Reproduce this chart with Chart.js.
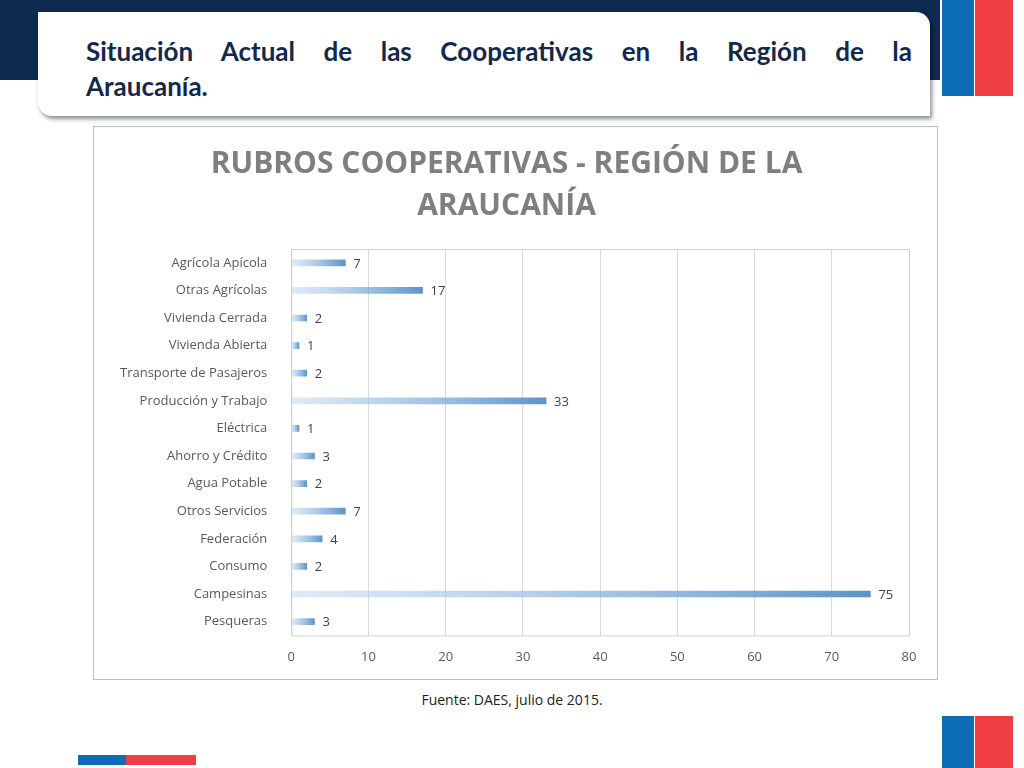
<!DOCTYPE html>
<html>
<head>
<meta charset="utf-8">
<script src="https://cdn.jsdelivr.net/npm/chart.js@4"></script>
<style>
  body { margin: 0; width: 1024px; height: 768px; position: relative; background: #fff; overflow: hidden; font-family: Lato, sans-serif; }
  .band { position: absolute; left: 0; top: 0; width: 940px; height: 80px; background: #0f2a4f; }
  .card { position: absolute; left: 38px; top: 12px; width: 892px; height: 104px; background: #fff; box-shadow: 2px 3px 4px rgba(0,0,0,0.45); border-radius: 0 14px 0 14px; }
  .card h1 { margin: 22px 18px 0 48px; font-size: 26px; line-height: 35px; color: #14284b; font-weight: bold; }
  .card .l1 { text-align: justify; text-align-last: justify; }
  .blk { position: absolute; }
  .box { position: absolute; left: 93px; top: 126px; width: 843px; height: 552px; border: 1px solid #a9c3dd; }
  .src { position: absolute; left: 0; width: 1024px; top: 690px; text-align: center; font-size: 14px; color: #222; font-family: "Open Sans", sans-serif; }
</style>
</head>
<body>
<div class="band"></div>
<div class="card"><h1><div class="l1">Situación Actual de las Cooperativas en la Región de la</div><div>Araucanía.</div></h1></div>
<div class="blk" style="left:942px;top:0;width:32px;height:96px;background:#0d6cb6"></div>
<div class="blk" style="left:975px;top:0;width:38px;height:96px;background:#ef3e42"></div>
<div class="blk" style="left:942px;top:716px;width:32px;height:52px;background:#0d6cb6"></div>
<div class="blk" style="left:975px;top:716px;width:38px;height:52px;background:#ef3e42"></div>
<div class="blk" style="left:78px;top:755px;width:48px;height:10px;background:#0d6cb6"></div>
<div class="blk" style="left:126px;top:755px;width:70px;height:10px;background:#ef3e42"></div>
<div class="box"><canvas id="c" width="843" height="552"></canvas></div>
<div class="src">Fuente: DAES, julio de 2015.</div>
<script>
const categories = ['Agrícola Apícola', 'Otras Agrícolas', 'Vivienda Cerrada', 'Vivienda Abierta', 'Transporte de Pasajeros', 'Producción y Trabajo', 'Eléctrica', 'Ahorro y Crédito', 'Agua Potable', 'Otros Servicios', 'Federación', 'Consumo', 'Campesinas', 'Pesqueras'];
const values = [7, 17, 2, 1, 2, 33, 1, 3, 2, 7, 4, 2, 75, 3];

const labelPlugin = {
	id: 'labels',
	afterDatasetsDraw(chart) {
		const ctx = chart.ctx;
		const meta = chart.getDatasetMeta(0);
		const a = chart.chartArea;
		ctx.save();
		ctx.strokeStyle = '#d0d0d0';
		ctx.lineWidth = 1;
		ctx.strokeRect(a.left + 0.5, a.top + 0.5, a.right - a.left, a.bottom - a.top);
		ctx.font = '13px "Open Sans", sans-serif';
		ctx.fillStyle = '#404040';
		ctx.textBaseline = 'middle';
		meta.data.forEach((bar, i) => {
			ctx.fillText(values[i], bar.x + 8, bar.y + 1);
		});
		ctx.restore();
	},
};

new Chart(document.getElementById('c'), {
	type: 'bar',
	data: {
		labels: categories,
		datasets: [{
			data: values,
			backgroundColor: (context) => {
				const chart = context.chart;
				if (!chart.chartArea) return '#5b9bd5';
				const x0 = chart.scales.x.getPixelForValue(0);
				const x1 = chart.scales.x.getPixelForValue(context.raw);
				const g = chart.ctx.createLinearGradient(x0, 0, x1, 0);
				g.addColorStop(0, 'rgba(190,215,238,0.5)');
				g.addColorStop(1, '#5b93cc');
				return g;
			},
			barThickness: 6,
		}],
	},
	options: {
		indexAxis: 'y',
		responsive: false,
		animation: false,
		layout: { padding: { right: 28, left: 10, bottom: 0 } },
		scales: {
			x: {
				min: 0,
				max: 80,
				ticks: { stepSize: 10, color: '#595959', font: { size: 13, family: 'Open Sans' }, padding: 14 },
				grid: { color: '#d9d9d9', drawTicks: false },
				border: { display: false },
			},
			y: {
				ticks: { color: '#595959', font: { size: 13, family: 'Open Sans' }, padding: 16 },
				grid: { display: false },
				border: { color: '#d9d9d9' },
			},
		},
		plugins: {
			legend: { display: false },
			tooltip: { enabled: false },
			title: {
				display: true,
				text: ['RUBROS COOPERATIVAS - REGIÓN DE LA', 'ARAUCANÍA'],
				color: '#7f7f7f',
				font: { size: 30, weight: 'bold', family: 'Open Sans', lineHeight: 1.4 },
				padding: { top: 16, bottom: 22 },
			},
		},
	},
	plugins: [labelPlugin],
});
</script>
</body>
</html>
